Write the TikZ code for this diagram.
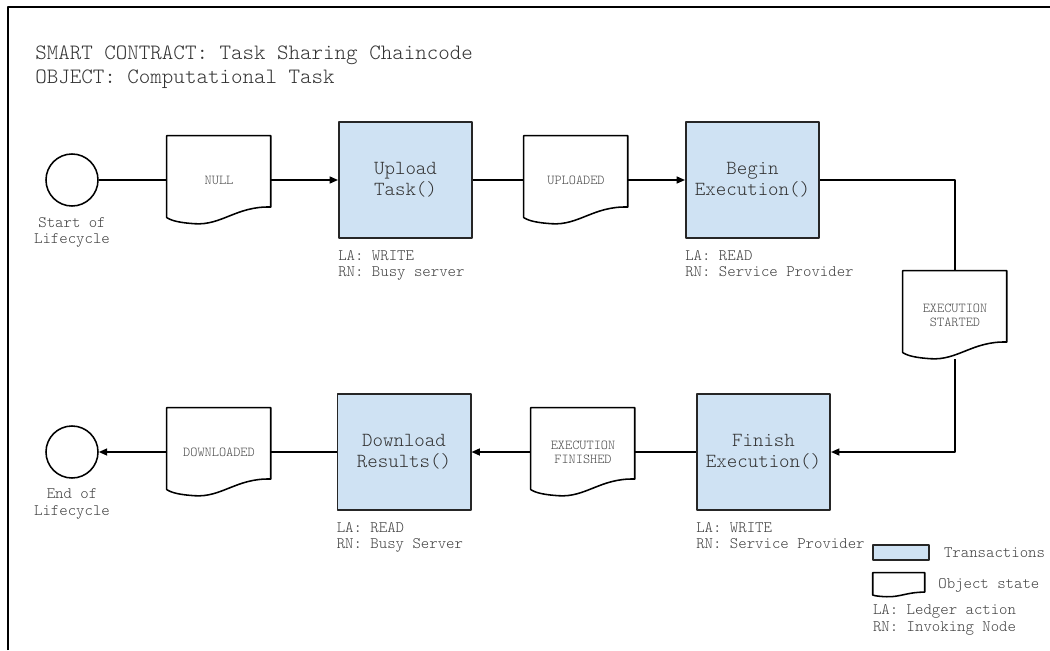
\documentclass[tikz,border=0pt]{standalone}
\usepackage{fontspec}
\setmainfont{Latin Modern Mono Light}
\usetikzlibrary{arrows.meta,positioning}
\definecolor{txblue}{HTML}{CFE2F3}
\definecolor{lblgray}{HTML}{404040}
\definecolor{docgray}{HTML}{4A4A4A}
\tikzset{
	trans/.style={draw=black!85, line width=1.4pt, fill=txblue, minimum width=3.325cm, minimum height=2.9cm, align=center, inner sep=0pt, text=black!80, font=\fontsize{14.2}{15}\selectfont},
	objstate/.style={minimum width=2.6cm, minimum height=2.2cm, inner sep=0pt, align=center, text=docgray, font=\fontsize{9.7}{10}\selectfont},
	lifecycle/.style={draw, circle, line width=1.1pt, minimum size=1.3cm, inner sep=0pt},
	note/.style={align=left, inner sep=0pt, text=lblgray, font=\fontsize{11.4}{12}\selectfont},
	flow/.style={line width=1.1pt},
}
% outline of an object state: node, width, height
\newcommand{\docoutline}[3]{
	\draw[line width=1.1pt, shift={(#1.north west)}, x=#2, y=-#3]
	(0,0) -- (1,0) -- (1,0.81) .. controls (0.67,0.8) and (0.53,1.02) .. (0.27,1)
	.. controls (0.14,0.99) and (0.05,0.97) .. (0,0.93) -- cycle;
}
\begin{document}
\begin{tikzpicture}[x=0.025cm, y=-0.025cm, line join=round, >={Triangle[length=6pt,width=5pt]}]
	\useasboundingbox (0,0) rectangle (1050,650);
	\draw[line width=1.4pt] (8,650) -- (8,7) -- (1050,7);
	\node[anchor=north west, inner sep=0pt, align=left, text=black!80, font=\fontsize{15.6}{17}\selectfont] (title) at (35,46) {SMART CONTRACT: Task Sharing Chaincode\\OBJECT: Computational Task};
	% upper row
	\node[lifecycle] (start) at (72,180) {};
	\node[objstate] (nul) at (219,180) {NULL};
	\node[trans] (upload) at (405.5,180) {Upload\\Task()};
	\node[objstate] (uploaded) at (576,180) {UPLOADED};
	\node[trans] (begin) at (752.5,180) {Begin\\Execution()};
	\node[objstate] (started) at (955,315) {EXECUTION\\STARTED};
	% lower row
	\node[trans] (finish) at (763.5,452) {Finish\\Execution()};
	\node[objstate] (finished) at (583,452) {EXECUTION\\FINISHED};
	\node[trans] (download) at (404,452) {Download\\Results()};
	\node[objstate] (downloaded) at (219,452) {DOWNLOADED};
	\node[lifecycle] (end) at (72,452) {};
	\foreach \n in {nul,uploaded,started,finished,downloaded}
	\docoutline{\n}{2.6cm}{2.2cm};
	\node[note, align=center, below=0.25cm of start] (startlbl) {Start of\\Lifecycle};
	\node[note, align=center, below=0.25cm of end] (endlbl) {End of\\Lifecycle};
	\node[note, below right=0.27cm and 0cm of upload.south west] (uploadla) {LA: WRITE\\RN: Busy server};
	\node[note, below right=0.27cm and 0cm of begin.south west] (beginla) {LA: READ\\RN: Service Provider};
	\node[note, below right=0.27cm and 0cm of finish.south west] (finishla) {LA: WRITE\\RN: Service Provider};
	\node[note, below right=0.27cm and 0cm of download.south west] (downloadla) {LA: READ\\RN: Busy Server};
	% connectors
	\draw[flow] (start) -- (nul);
	\draw[flow,->] (nul) -- (upload);
	\draw[flow] (upload) -- (uploaded);
	\draw[flow,->] (uploaded) -- (begin);
	\draw[flow] (begin.east) -| (started.north);
	\draw[flow,->] (started.south) |- (finish.east);
	\draw[flow] (finish) -- (finished);
	\draw[flow,->] (finished) -- (download);
	\draw[flow] (download) -- (downloaded);
	\draw[flow,->] (downloaded) -- (end);
	% legend
	\node[trans, line width=1pt, minimum width=1.4cm, minimum height=0.375cm] (legtrans) at (901,552.5) {};
	\node[note, right=0.35cm of legtrans] (legtranslbl) {Transactions};
	\node[objstate, minimum width=1.3cm, minimum height=0.6cm] (legdoc) at (899,585) {};
	\docoutline{legdoc}{1.3cm}{0.6cm}
	\node[note, right=0.32cm of legdoc] (legdoclbl) {Object state};
	\node[note, below right=0.17cm and 0cm of legdoc.south west] (legkey) {LA: Ledger action\\RN: Invoking Node};
\end{tikzpicture}
\end{document}
